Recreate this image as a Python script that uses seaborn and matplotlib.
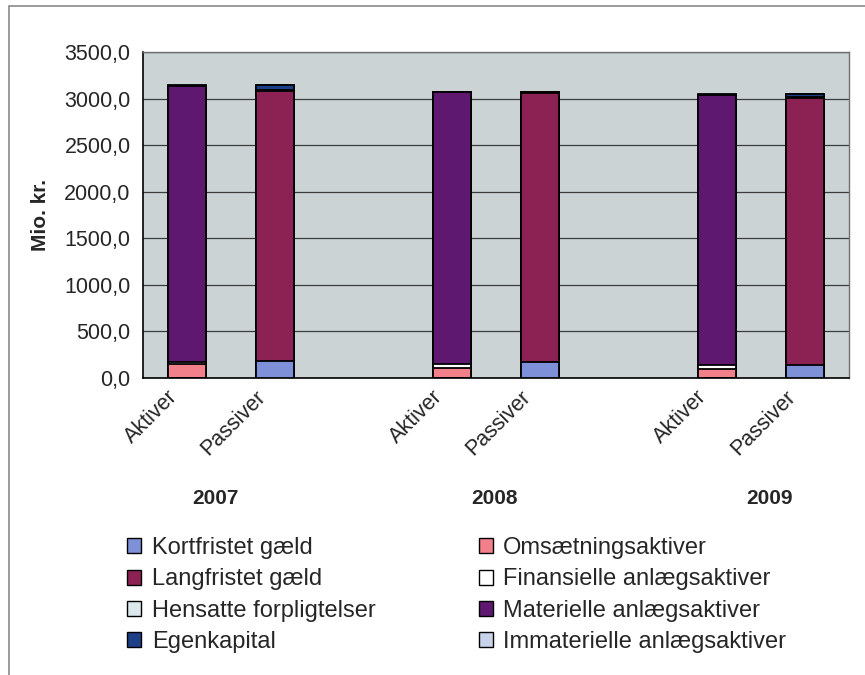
import numpy as np
import pandas as pd
import matplotlib.pyplot as plt
import matplotlib.patches as mpatches
import matplotlib.transforms as mtransforms
import seaborn as sns

# Bars: Aktiver/Passiver for each year (values in Mio. kr.)
bar_keys = ['A2007', 'P2007', 'A2008', 'P2008', 'A2009', 'P2009']
slot_keys = ['A2007', 'P2007', 'gap1', 'A2008', 'P2008', 'gap2', 'A2009', 'P2009']
slot_labels = ['Aktiver', 'Passiver', '', 'Aktiver', 'Passiver', '', 'Aktiver', 'Passiver']
years = ['2007', '2008', '2009']

kortfristet = [0, 185, 0, 175, 0, 135]
langfristet = [0, 2900, 0, 2890, 0, 2875]
hensatte = [0, 10, 0, 5, 0, 5]
egenkapital = [0, 50, 0, 5, 0, 30]
omsaetning = [155, 0, 105, 0, 95, 0]
finansielle = [20, 0, 40, 0, 40, 0]
materielle = [2965, 0, 2925, 0, 2905, 0]
immaterielle = [5, 0, 5, 0, 5, 0]

series_names = ['Kortfristet gæld', 'Langfristet gæld', 'Hensatte forpligtelser', 'Egenkapital',
                'Omsætningsaktiver', 'Finansielle anlægsaktiver', 'Materielle anlægsaktiver',
                'Immaterielle anlægsaktiver']
series_values = [kortfristet, langfristet, hensatte, egenkapital,
                 omsaetning, finansielle, materielle, immaterielle]
series_colors = ['#7E90D8', '#8C2254', '#DCE8EC', '#1C3F86',
                 '#F2808A', '#FFFFFF', '#5E1870', '#C8D2EA']

sns.set_theme(style='white')
plt.rcParams['font.family'] = ['Liberation Sans', 'DejaVu Sans']

fig = plt.figure(figsize=(8.65, 6.75), dpi=100)
ax = fig.add_axes([143 / 865, 1 - 378 / 675, (849 - 143) / 865, (378 - 52) / 675])
ax.set_facecolor('#CCD3D4')

# stacked bars: draw cumulative sums from the top layer down
cum = np.cumsum(np.array(series_values), axis=0)
for i in reversed(range(len(series_names))):
    df = pd.DataFrame({'bar': bar_keys, 'value': cum[i]})
    sns.barplot(data=df, x='bar', y='value', order=slot_keys, color=series_colors[i],
                saturation=1, width=0.43, edgecolor='black', linewidth=1.3, ax=ax, zorder=3)

ax.set_ylim(0, 3500)
ax.set_xlim(-0.5, 7.5)
ax.set_yticks(np.arange(0, 3501, 500))
ax.set_yticklabels([f'{v:.1f}'.replace('.', ',') for v in np.arange(0, 3501, 500)], fontsize=15.5)
ax.yaxis.grid(True, color='#3C3C3C', linewidth=0.9, zorder=0)
ax.set_axisbelow(True)

ax.set_xticks(range(len(slot_keys)))
ax.set_xticklabels(slot_labels, rotation=45, ha='right', rotation_mode='anchor', fontsize=15.5)
ax.tick_params(axis='x', length=0, pad=6)
shift = mtransforms.ScaledTranslation(-20 / 100, 0, fig.dpi_scale_trans)
for lbl in ax.get_xticklabels():
    lbl.set_transform(lbl.get_transform() + shift)
ax.set_xticks(np.arange(-0.5, 8, 1), minor=True)
ax.tick_params(axis='x', which='minor', length=5, color='black', width=1, direction='out')
ax.tick_params(axis='y', length=5, color='black', width=1, direction='out', pad=4)
ax.set_xlabel('')
ax.set_ylabel('Mio. kr.', fontsize=15, fontweight='bold', labelpad=10)

for side in ['left', 'bottom']:
    ax.spines[side].set_color('black')
    ax.spines[side].set_linewidth(1.2)
for side in ['top', 'right']:
    ax.spines[side].set_color('#707070')
    ax.spines[side].set_linewidth(1.0)

# year labels under the category groups
for xpos, yr in zip([0.32, 3.48, 6.6], years):
    ax.text(xpos, -0.37, yr, transform=ax.get_xaxis_transform(), ha='center', va='center',
            fontsize=15, fontweight='bold')

# legend (two columns)
handles = [mpatches.Patch(facecolor=c, edgecolor='black', linewidth=1.0) for c in series_colors]
fig.legend(handles, series_names, loc='upper left', bbox_to_anchor=(106 / 865, 1 - 516 / 675),
           ncol=2, frameon=False, fontsize=17, handlelength=0.6, handleheight=0.6,
           handletextpad=0.45, columnspacing=4.35, labelspacing=0.39)

# outer frame
fig.add_artist(mpatches.Rectangle((9 / 865, -0.1), 1.2, 1 - 6 / 675 + 0.1,
                                  transform=fig.transFigure, fill=False,
                                  edgecolor='#8A8A8A', linewidth=1.2))

fig.savefig('out.png', dpi=100)
